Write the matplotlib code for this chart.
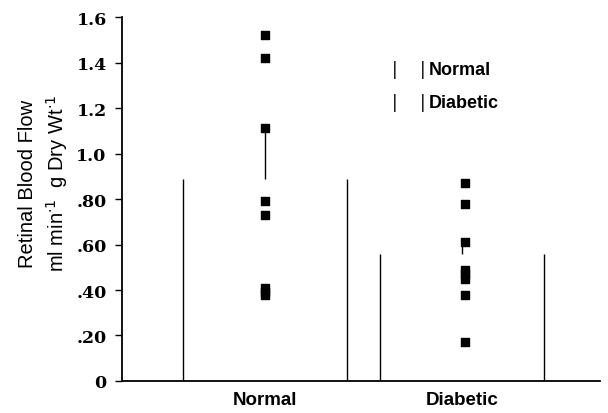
import matplotlib.pyplot as plt
import numpy as np

groups = ['Normal', 'Diabetic']
means = [0.89, 0.56]
err_top = [1.10, 0.63]
normal_pts = [1.52, 1.42, 1.11, 0.79, 0.73, 0.41, 0.39, 0.38]
diabetic_pts = [0.87, 0.78, 0.61, 0.49, 0.47, 0.45, 0.38, 0.17]
yticks = [0, 0.2, 0.4, 0.6, 0.8, 1.0, 1.2, 1.4, 1.6]
ytick_labels = ['0', '.20', '.40', '.60', '.80', '1.0', '1.2', '1.4', '1.6']

fig = plt.figure(figsize=(6.08, 4.14), dpi=100)
ax = fig.add_axes([0.2007, 0.0773, 0.7863, 0.8792])

x = np.arange(len(groups))
bars = ax.bar(x, means, width=0.83, color='none', linewidth=0)
# scanned bars: only the side edges survived
for b in bars:
    ax.vlines([b.get_x(), b.get_x() + b.get_width()], 0, b.get_height(),
              color='black', linewidth=1.0)

# upper error bars
ax.vlines(x, means, err_top, color='black', linewidth=1.0)

ax.scatter(np.full(len(normal_pts), x[0]), normal_pts, marker='s', s=38,
           color='black', zorder=3)
ax.scatter(np.full(len(diabetic_pts), x[1] + 0.015), diabetic_pts, marker='s',
           s=38, color='black', zorder=3)

ax.set_xlim(-0.726, 1.70)
ax.set_ylim(0, 1.6)
ax.set_yticks(yticks)
ax.set_yticklabels(ytick_labels, family='DejaVu Serif', fontweight='bold',
                   fontsize=12.5)
ax.set_xticks(x)
ax.set_xticklabels(groups, fontweight='bold', fontsize=13.5,
                   family='Liberation Sans')
ax.tick_params(axis='x', length=0, pad=7)
ax.tick_params(axis='y', length=5, width=1, direction='out', pad=6)

for s in ['top', 'right']:
    ax.spines[s].set_visible(False)
for s in ['left', 'bottom']:
    ax.spines[s].set_linewidth(1.3)

# legend drawn like the faded original
for yy, name in [(0.857, 'Normal'), (0.766, 'Diabetic')]:
    ax.text(0.565, yy, '|', transform=ax.transAxes, fontsize=12, va='center')
    ax.text(0.624, yy, '|', transform=ax.transAxes, fontsize=12, va='center')
    ax.text(0.642, yy, name, transform=ax.transAxes, fontsize=13,
            va='center', fontweight='bold', family='Liberation Sans')

fig.text(0.046, 0.556, 'Retinal Blood Flow', rotation=90, ha='center',
         va='center', fontsize=14.5, family='Liberation Sans')
fig.text(0.094, 0.556, 'ml min$^{\\cdot 1}$  g Dry Wt$^{\\cdot 1}$', rotation=90,
         ha='center', va='center', fontsize=14.5, family='Liberation Sans')

fig.savefig('out.png', dpi=100)
